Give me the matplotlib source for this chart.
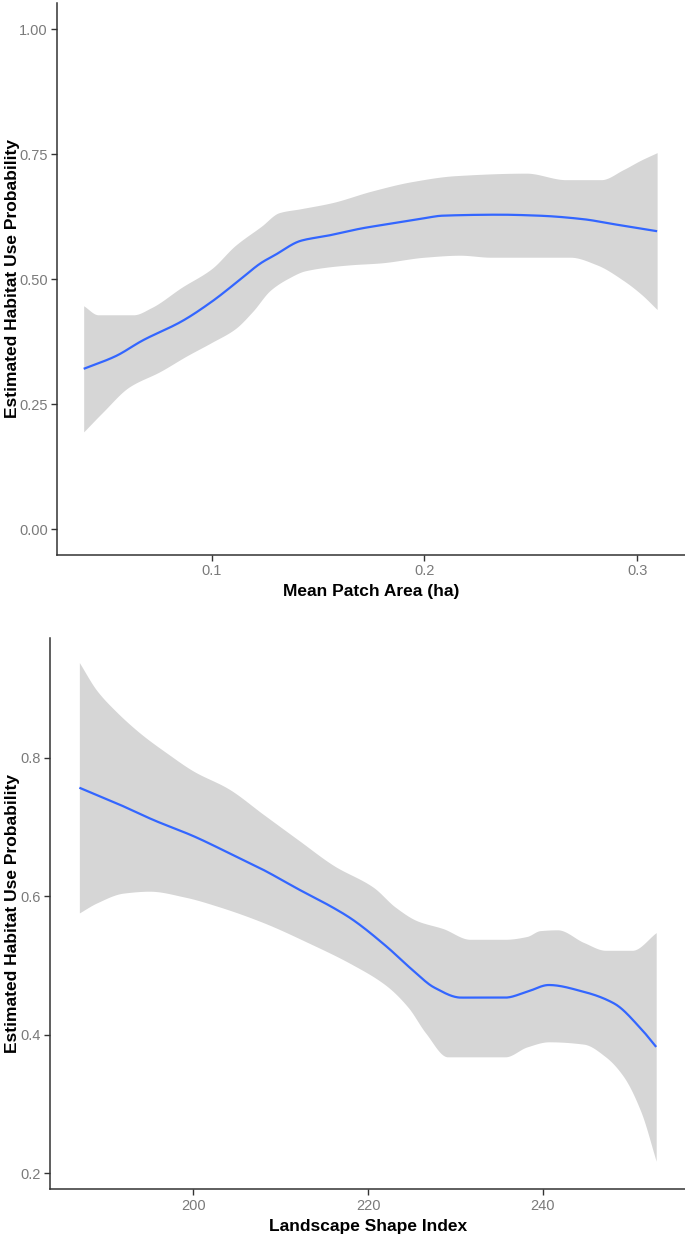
import matplotlib
matplotlib.use("Agg")
import matplotlib.pyplot as plt
import numpy as np

# ---- Panel 1: Mean Patch Area ----
mpa_x = [0.0399, 0.055, 0.0675, 0.086, 0.100, 0.113, 0.1234, 0.1296, 0.142, 0.1545,
         0.171, 0.1856, 0.200, 0.2084, 0.2353, 0.254, 0.2747, 0.289, 0.3093]
mpa_fit = [0.321, 0.3465, 0.3775, 0.416, 0.455, 0.498, 0.533, 0.548, 0.577, 0.587,
           0.602, 0.612, 0.622, 0.627, 0.629, 0.627, 0.620, 0.610, 0.596]

mpa_up_x = [0.0399, 0.0467, 0.0633, 0.0716, 0.086, 0.100, 0.111, 0.1234, 0.1317, 0.142,
            0.1566, 0.175, 0.194, 0.2146, 0.2478, 0.2664, 0.283, 0.2934, 0.3017, 0.3093]
mpa_up = [0.447, 0.429, 0.429, 0.443, 0.484, 0.521, 0.567, 0.606, 0.633, 0.641,
          0.653, 0.676, 0.695, 0.707, 0.712, 0.699, 0.699, 0.719, 0.738, 0.753]

mpa_lo_x = [0.0399, 0.0488, 0.0612, 0.0758, 0.0882, 0.100, 0.111, 0.1193, 0.1276, 0.1359,
            0.1441, 0.1649, 0.1794, 0.200, 0.2167, 0.2312, 0.2685, 0.281, 0.2934, 0.3017, 0.3093]
mpa_lo = [0.195, 0.234, 0.2845, 0.3155, 0.3465, 0.3736, 0.4008, 0.4357, 0.478, 0.5016,
          0.517, 0.5287, 0.5326, 0.544, 0.548, 0.544, 0.544, 0.5287, 0.4977, 0.4705, 0.4395]

mpa_xticks = [0.1, 0.2, 0.3]
mpa_xticklabels = ["0.1", "0.2", "0.3"]
mpa_yticks = [0.0, 0.25, 0.5, 0.75, 1.0]
mpa_yticklabels = ["0.00", "0.25", "0.50", "0.75", "1.00"]

# ---- Panel 2: Landscape Shape Index ----
lsi_x = [186.93, 191.46, 195.48, 200.0, 204.0, 208.04, 212.06, 216.08, 218.09, 222.1,
         225.1, 227.6, 230.65, 235.7, 238.2, 240.7, 244.7, 248.2, 251.3, 253.0]
lsi_fit = [0.757, 0.733, 0.710, 0.687, 0.663, 0.638, 0.610, 0.583, 0.5675, 0.5276,
           0.4934, 0.468, 0.4536, 0.4536, 0.462, 0.4718, 0.462, 0.445, 0.408, 0.3823]

lsi_up_x = [186.93, 188.9, 190.95, 193.97, 196.98, 200.0, 204.0, 208.0, 212.06, 216.08,
            220.6, 223.1, 225.6, 228.6, 231.66, 235.7, 238.2, 239.7, 241.7, 244.7,
            247.2, 250.25, 253.0]
lsi_up = [0.9379, 0.898, 0.8695, 0.835, 0.8068, 0.781, 0.7556, 0.7185, 0.681, 0.6444,
          0.6131, 0.5846, 0.5647, 0.5533, 0.5379, 0.5379, 0.542, 0.5504, 0.5516, 0.5333,
          0.522, 0.522, 0.5476]

lsi_lo_x = [186.93, 188.9, 191.96, 194.97, 199.0, 203.0, 208.04, 213.07, 218.09, 222.1,
            224.6, 226.6, 229.1, 235.7, 238.2, 240.7, 244.7, 247.2, 249.25, 251.26, 253.0]
lsi_lo = [0.576, 0.5903, 0.6046, 0.6074, 0.5989, 0.5846, 0.5618, 0.5333, 0.502, 0.4707,
          0.4393, 0.4023, 0.368, 0.368, 0.3823, 0.3897, 0.3863, 0.368, 0.3396, 0.2883, 0.217]

lsi_xticks = [200, 220, 240]
lsi_xticklabels = ["200", "220", "240"]
lsi_yticks = [0.2, 0.4, 0.6, 0.8]
lsi_yticklabels = ["0.2", "0.4", "0.6", "0.8"]

YLABEL = "Estimated Habitat Use Probability"

LINE_C = "#3366FF"
FILL_C = "#999999"
TICK_FONT = ["Liberation Sans Narrow", "Liberation Sans", "DejaVu Sans"]
LABEL_FONT = ["Liberation Sans", "DejaVu Sans"]

W, H = 685, 1237
fig = plt.figure(figsize=(W / 100, H / 100), dpi=100)
fig.patch.set_facecolor("white")


def px_axes(left, right, top, bottom):
    return fig.add_axes([left / W, 1 - bottom / H, (right - left) / W, (bottom - top) / H])


def pchip(x, y, xn):
    """Shape-preserving cubic path through the read points (for drawing only)."""
    x = np.asarray(x, float)
    y = np.asarray(y, float)
    h = np.diff(x)
    d = np.diff(y) / h
    m = np.zeros_like(y)
    for k in range(1, len(x) - 1):
        if d[k - 1] * d[k] > 0:
            w1 = 2 * h[k] + h[k - 1]
            w2 = h[k] + 2 * h[k - 1]
            m[k] = (w1 + w2) / (w1 / d[k - 1] + w2 / d[k])
    m[0] = d[0]
    m[-1] = d[-1]
    idx = np.clip(np.searchsorted(x, xn) - 1, 0, len(x) - 2)
    t = (xn - x[idx]) / h[idx]
    h00 = 2 * t**3 - 3 * t**2 + 1
    h10 = t**3 - 2 * t**2 + t
    h01 = -2 * t**3 + 3 * t**2
    h11 = t**3 - t**2
    return h00 * y[idx] + h10 * h[idx] * m[idx] + h01 * y[idx + 1] + h11 * h[idx] * m[idx + 1]


def smooth_band(ax, fx, fy, ux, uy, lx, ly):
    grid = np.linspace(min(fx), max(fx), 600)
    up = pchip(ux, uy, grid)
    lo = pchip(lx, ly, grid)
    fit = pchip(fx, fy, grid)
    ax.fill_between(grid, lo, up, color=FILL_C, alpha=0.4, linewidth=0)
    ax.plot(grid, fit, color=LINE_C, linewidth=1.6, solid_capstyle="butt")


def style(ax, xt, xtl, yt, ytl, xlabel, ax_left_px, ax_width_px):
    for s in ["top", "right"]:
        ax.spines[s].set_visible(False)
    for s in ["left", "bottom"]:
        ax.spines[s].set_color("#333333")
        ax.spines[s].set_linewidth(1.1)
    ax.set_xticks(xt)
    ax.set_xticklabels(xtl)
    ax.set_yticks(yt)
    ax.set_yticklabels(ytl)
    ax.tick_params(axis="both", length=4, width=1.0, color="#333333",
                   labelcolor="#7a7a7a", labelsize=10.5, pad=3)
    for lab in ax.get_xticklabels() + ax.get_yticklabels():
        lab.set_family(TICK_FONT)
    ax.set_xlabel(xlabel, family=LABEL_FONT, fontweight="bold", fontsize=12.5,
                  color="black", labelpad=4)
    ax.set_ylabel(YLABEL, family=LABEL_FONT, fontweight="bold", fontsize=12.5,
                  color="black")
    ax.yaxis.set_label_coords((20 - ax_left_px) / ax_width_px, 0.5)


ax1 = px_axes(57.5, 685, 3, 554.5)
smooth_band(ax1, mpa_x, mpa_fit, mpa_up_x, mpa_up, mpa_lo_x, mpa_lo)
ax1.set_xlim(0.0276, 0.3224)
ax1.set_ylim(-0.05, 1.052)
style(ax1, mpa_xticks, mpa_xticklabels, mpa_yticks, mpa_yticklabels,
      "Mean Patch Area (ha)", 57.5, 685 - 57.5)

ax2 = px_axes(50.3, 685, 637.6, 1189.3)
smooth_band(ax2, lsi_x, lsi_fit, lsi_up_x, lsi_up, lsi_lo_x, lsi_lo)
ax2.set_xlim(183.6, 256.3)
ax2.set_ylim(0.1765, 0.974)
style(ax2, lsi_xticks, lsi_xticklabels, lsi_yticks, lsi_yticklabels,
      "Landscape Shape Index", 50.3, 685 - 50.3)

fig.savefig("out.png", dpi=100, facecolor="white")
